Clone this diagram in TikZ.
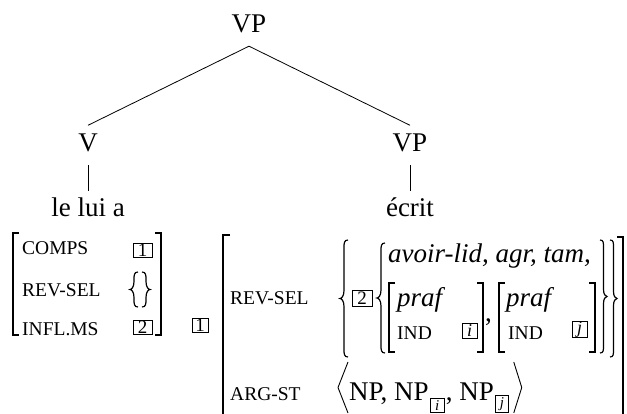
\documentclass[tikz,border=0pt]{standalone}
\usepackage{fontspec}
\setmainfont{Liberation Serif}
\newcommand\mylbrace[4]{% xtip, top, bottom, width
  \draw[brc] ({#1+#4},#2) .. controls ({#1+#4*0.5},#2) and ({#1+#4*0.5},{#2+#4*0.4}) .. ({#1+#4*0.5},{#2+#4})
   -- ({#1+#4*0.5},{(#2+#3)/2-#4}) .. controls ({#1+#4*0.5},{(#2+#3)/2-#4*0.3}) and ({#1+#4*0.2},{(#2+#3)/2}) .. (#1,{(#2+#3)/2})
   .. controls ({#1+#4*0.2},{(#2+#3)/2}) and ({#1+#4*0.5},{(#2+#3)/2+#4*0.3}) .. ({#1+#4*0.5},{(#2+#3)/2+#4})
   -- ({#1+#4*0.5},{#3-#4}) .. controls ({#1+#4*0.5},{#3-#4*0.4}) and ({#1+#4*0.5},#3) .. ({#1+#4},#3);}
\newcommand\myrbrace[4]{% xtip, top, bottom, width
  \draw[brc] ({#1-#4},#2) .. controls ({#1-#4*0.5},#2) and ({#1-#4*0.5},{#2+#4*0.4}) .. ({#1-#4*0.5},{#2+#4})
   -- ({#1-#4*0.5},{(#2+#3)/2-#4}) .. controls ({#1-#4*0.5},{(#2+#3)/2-#4*0.3}) and ({#1-#4*0.2},{(#2+#3)/2}) .. (#1,{(#2+#3)/2})
   .. controls ({#1-#4*0.2},{(#2+#3)/2}) and ({#1-#4*0.5},{(#2+#3)/2+#4*0.3}) .. ({#1-#4*0.5},{(#2+#3)/2+#4})
   -- ({#1-#4*0.5},{#3-#4}) .. controls ({#1-#4*0.5},{#3-#4*0.4}) and ({#1-#4*0.5},#3) .. ({#1-#4},#3);}
\tikzset{
  tree/.style={anchor=base, inner sep=0pt, font=\fontsize{27}{30}\selectfont, text height=18.5pt, text depth=0pt},
  big/.style={anchor=base west, inner sep=0pt, font=\fontsize{27}{30}\selectfont},
  itx/.style={anchor=base west, inner sep=0pt, font=\fontsize{27}{30}\selectfont\itshape},
  feat/.style={anchor=base west, inner sep=0pt, font=\fontsize{19.5}{22}\selectfont},
  tag/.style={draw, line width=0.7pt, inner sep=0pt, font=\fontsize{19}{19}\selectfont},
  itag/.style={tag, font=\fontsize{18}{18}\selectfont\itshape},
  stag/.style={tag, font=\fontsize{15}{15}\selectfont\itshape},
  edge/.style={line width=0.8pt},
  brk/.style={line width=1.4pt},
  brc/.style={line width=1.2pt},
  ang/.style={line width=0.9pt}
}
\begin{document}
\begin{tikzpicture}[x=1pt,y=-1pt]
\useasboundingbox (0,0) rectangle (627,414);
% ---------------- tree
\node[tree] (vp0) at (249,33) {VP};
\node[tree] (v) at (88,152) {V};
\node[tree] (vp1) at (410,152) {VP};
\node[tree] (w1) at (88,217) {le lui a};
\node[tree] (w2) at (410,217) {écrit};
\draw[edge] ([yshift=-13pt]vp0.south) -- ([yshift=8pt]v.north);
\draw[edge] ([yshift=-13pt]vp0.south) -- ([yshift=8pt]vp1.north);
\draw[edge] ([yshift=-13pt]v.south) -- ([yshift=7.5pt]w1.north);
\draw[edge] ([yshift=-13pt]vp1.south) -- ([yshift=7.5pt]w2.north);
% ---------------- left AVM
\draw[brk] (19,233) -- (13,233) -- (13,335) -- (19,335);
\draw[brk] (155,233) -- (161,233) -- (161,335) -- (155,335);
\node[feat] (f1) at (22,255) {COMPS};
\node[feat] (f2) at (22,297) {REV-SEL};
\node[feat] (f3) at (22,335) {INFL.MS};
\node[tag, minimum width=19pt, minimum height=14pt] (t1) at (142.5,250) {1};
\mylbrace{130}{272}{307}{8}
\myrbrace{150}{272}{307}{8}
\node[tag, minimum width=19pt, minimum height=14pt] (t2) at (142.5,327) {2};
\node[tag, minimum width=16pt, minimum height=14pt] (t3) at (200,325) {1};
% ---------------- right AVM
\draw[brk] (230,235) -- (223,235) -- (223,420);
\draw[brk] (617,237) -- (623,237) -- (623,420);
\node[feat] (g1) at (230,305) {REV-SEL};
\node[feat] (g2) at (230,400) {ARG-ST};
\mylbrace{340}{240}{357}{8}
\node[tag, minimum width=20pt, minimum height=16pt] (t4) at (362,298) {2};
\mylbrace{377}{243}{353}{8}
\node[itx] (a1) at (388,263) {avoir-lid, agr, tam,};
\draw[brk] (395,283) -- (389,283) -- (389,352) -- (395,352);
\node[itx] (p1) at (397,307) {praf};
\node[feat] (i1) at (397,340) {IND};
\node[itag, minimum width=15pt, minimum height=15pt] (t5) at (469.5,330.5) {i};
\draw[brk] (477,283) -- (483,283) -- (483,352) -- (477,352);
\node[big] (c1) at (485,322) {,};
\draw[brk] (505,283) -- (499,283) -- (499,352) -- (505,352);
\node[itx] (p2) at (506,307) {praf};
\node[feat] (i2) at (508,340) {IND};
\node[itag, minimum width=15pt, minimum height=15pt] (t6) at (579.5,329.5) {j};
\draw[brk] (589,283) -- (595,283) -- (595,352) -- (589,352);
\myrbrace{607}{240}{353}{7}
\myrbrace{617}{240}{357}{7}
% ---------------- ARG-ST list
\coordinate (atop) at (0,362);
\coordinate (amid) at (0,387.5);
\coordinate (abot) at (0,413);
\node[big] (n1) at (349,400) {NP, NP};
\node[stag, minimum width=14pt, minimum height=14pt, anchor=north west] (s1) at ([xshift=1pt,yshift=2pt]n1.base east) {i};
\node[big] (n2) at ([xshift=1pt,yshift=-2pt]s1.north east) {, NP};
\node[stag, minimum width=13pt, minimum height=17pt, anchor=north west] (s2) at ([xshift=1pt,yshift=5pt]n2.base east) {j};
\coordinate (la) at (348,0);
\path (s2.east) ++(5,0) coordinate (ra);
\draw[ang] (la |- atop) -- ([xshift=-10pt]la |- amid) -- (la |- abot);
\draw[ang] (ra |- atop) -- ([xshift=8pt]ra |- amid) -- (ra |- abot);
\end{tikzpicture}
\end{document}
